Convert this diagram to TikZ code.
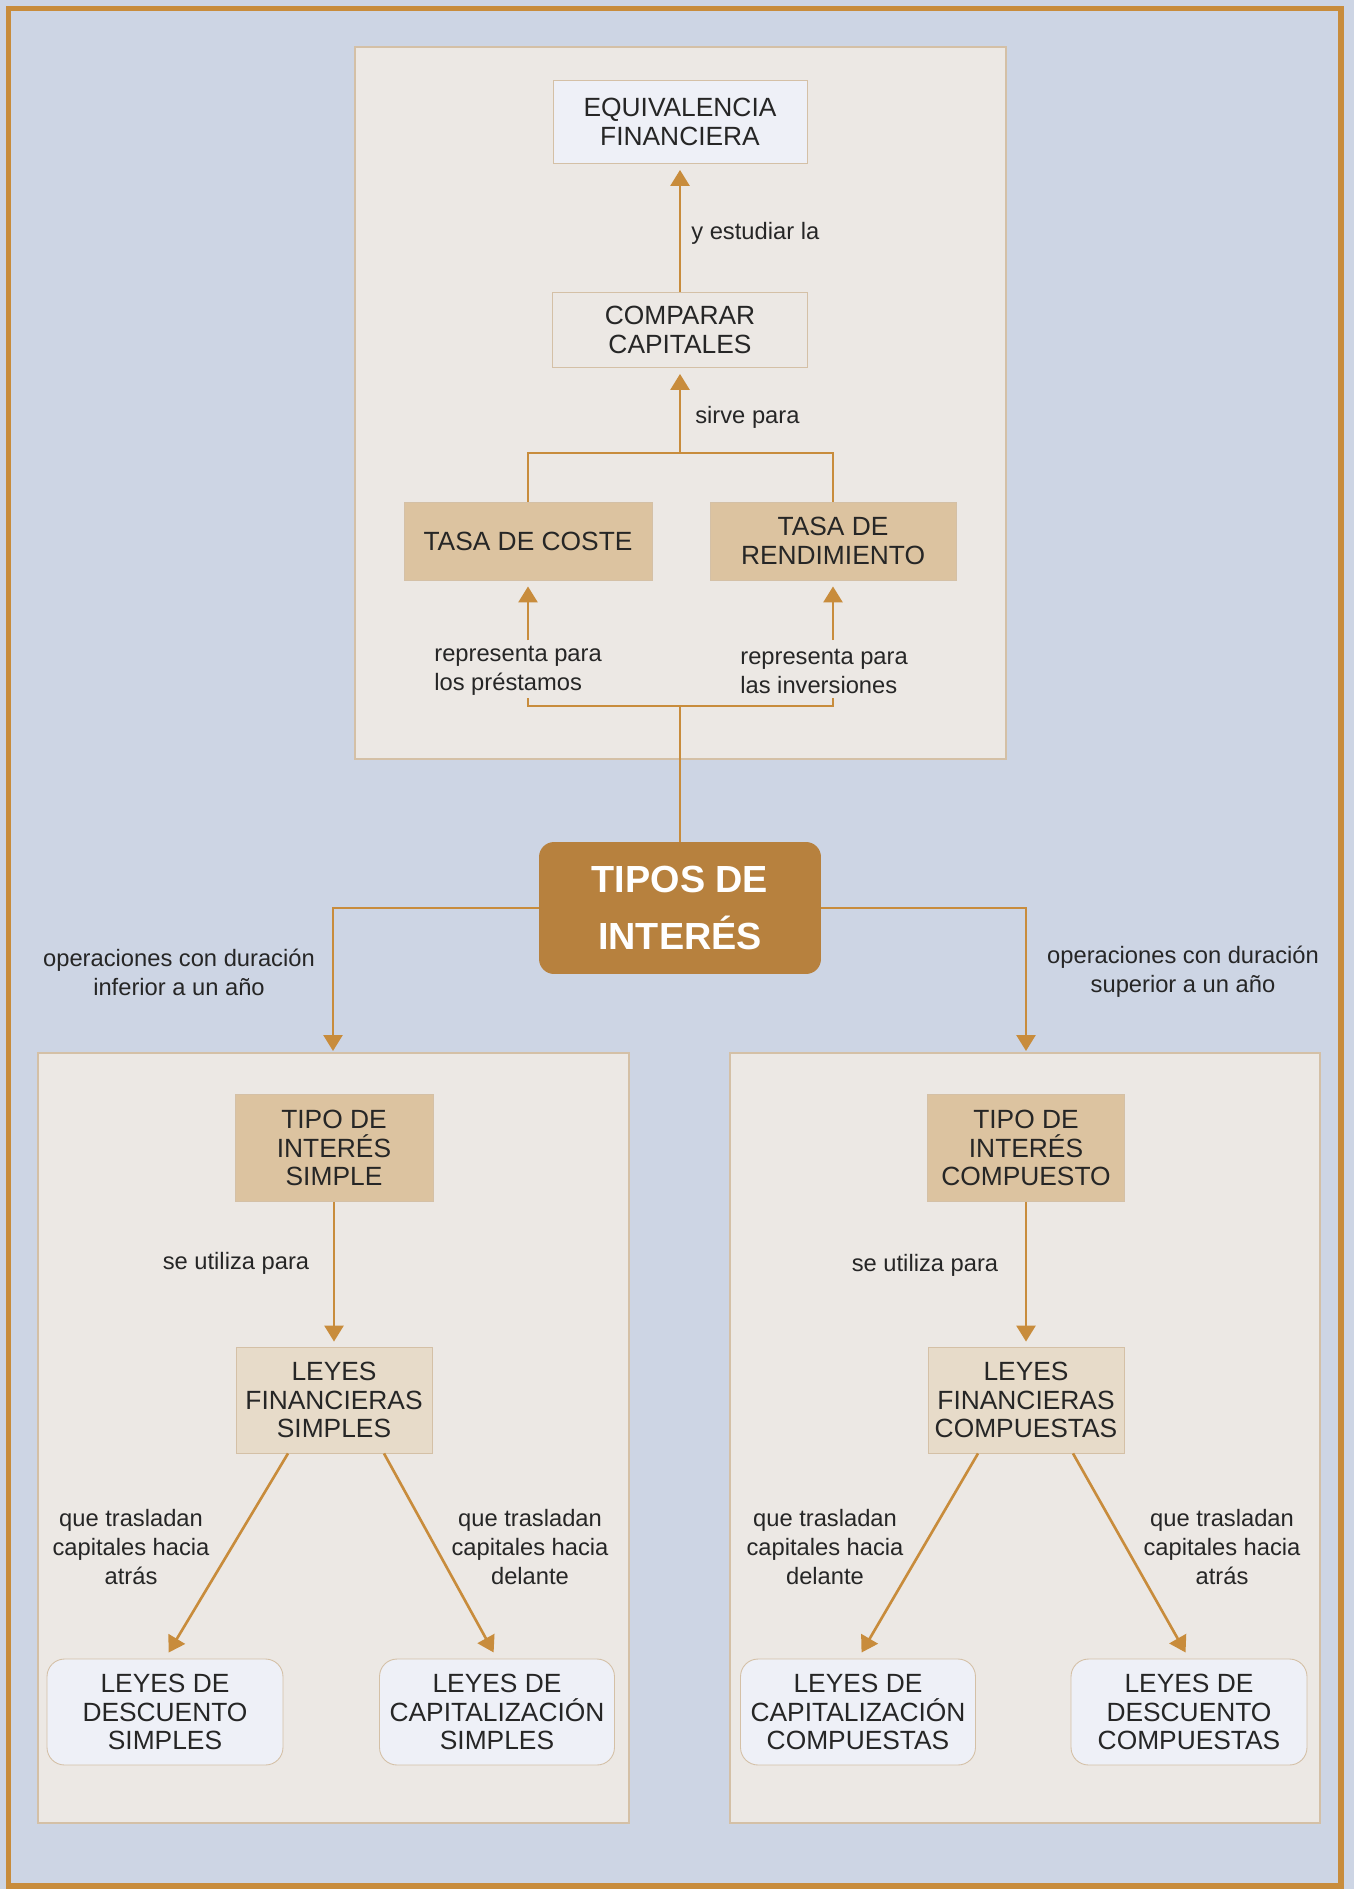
\documentclass[tikz,border=0pt]{standalone}
\usepackage{fontspec}
\setmainfont{Liberation Sans}
\usetikzlibrary{arrows.meta}
\definecolor{fondo}{HTML}{CDD5E4}
\definecolor{panel}{HTML}{ECE8E4}
\definecolor{ocre}{HTML}{C88C3C}
\definecolor{tostado}{HTML}{DCC3A0}
\definecolor{beige}{HTML}{E7DBC9}
\definecolor{clara}{HTML}{EEF0F7}
\definecolor{marron}{HTML}{B7813E}
\definecolor{borde}{HTML}{D4C0A6}
\definecolor{tinta}{HTML}{262626}

\begin{document}
\begin{tikzpicture}[x=0.02cm, y=-0.02cm, >={Triangle[length=0.32cm,width=0.38cm]},
  caja/.style={draw=borde, line width=0.5pt, inner sep=0pt, align=center, text=tinta, font=\fontsize{15}{16.2}\selectfont},
  etiqueta/.style={align=center, inner sep=0pt, text=tinta, font=\fontsize{13.5}{16.5}\selectfont},
  conector/.style={draw=ocre, line width=1.5pt},
  recuadro/.style={draw=borde, line width=0.6pt, fill=panel}]
\fill[fondo] (0,0) rectangle (1354,1889);
\useasboundingbox (0,0) rectangle (1354,1889);
\draw[ocre, line width=3pt] (8.5,8.5) rectangle (1341,1886);
\draw[recuadro] (355,47) rectangle (1006,759);
\draw[recuadro] (38,1053) rectangle (629,1823);
\draw[recuadro] (730,1053) rectangle (1320,1823);

\node[caja, fill=clara, minimum width=5.08cm, minimum height=1.66cm] (equiv) at (680,122) {EQUIVALENCIA\\FINANCIERA};
\node[caja, fill=panel, minimum width=5.1cm, minimum height=1.5cm] (comparar) at (680,330) {COMPARAR\\CAPITALES};
\node[caja, fill=tostado, minimum width=4.96cm, minimum height=1.56cm] (coste) at (528,541) {TASA DE COSTE};
\node[caja, fill=tostado, minimum width=4.92cm, minimum height=1.56cm] (rendim) at (833,541) {TASA DE\\RENDIMIENTO};
\node[caja, draw=none, fill=marron, rounded corners=0.3cm, text=white, minimum width=5.64cm, minimum height=2.64cm,
  font=\bfseries\fontsize{21.5}{32.4}\selectfont] (tipos) at (680,908) {TIPOS DE\\INTERÉS};
\node[caja, fill=tostado, minimum width=3.96cm, minimum height=2.14cm] (simple) at (334,1148) {TIPO DE\\INTERÉS\\SIMPLE};
\node[caja, fill=tostado, minimum width=3.94cm, minimum height=2.14cm] (compuesto) at (1026,1148) {TIPO DE\\INTERÉS\\COMPUESTO};
\node[caja, fill=beige, minimum width=3.92cm, minimum height=2.12cm] (leyesimp) at (334,1400) {LEYES\\FINANCIERAS\\SIMPLES};
\node[caja, fill=beige, minimum width=3.92cm, minimum height=2.12cm] (leyescomp) at (1026,1400) {LEYES\\FINANCIERAS\\COMPUESTAS};
\node[caja, fill=clara, rounded corners=0.35cm, minimum width=4.72cm, minimum height=2.12cm] (descsimp) at (165,1712) {LEYES DE\\DESCUENTO\\SIMPLES};
\node[caja, fill=clara, rounded corners=0.35cm, minimum width=4.7cm, minimum height=2.12cm] (capsimp) at (497,1712) {LEYES DE\\CAPITALIZACIÓN\\SIMPLES};
\node[caja, fill=clara, rounded corners=0.35cm, minimum width=4.7cm, minimum height=2.12cm] (capcomp) at (858,1712) {LEYES DE\\CAPITALIZACIÓN\\COMPUESTAS};
\node[caja, fill=clara, rounded corners=0.35cm, minimum width=4.72cm, minimum height=2.12cm] (desccomp) at (1189,1712) {LEYES DE\\DESCUENTO\\COMPUESTAS};

\node[etiqueta, anchor=west] (estudiar) at (691,233) {y estudiar la};
\node[etiqueta, anchor=west] (sirve) at (695,417) {sirve para};
\node[etiqueta, anchor=west, align=left] (prestamos) at (434,671) {representa para\\los préstamos};
\node[etiqueta, anchor=west, align=left] (inversiones) at (740,671) {representa para\\las inversiones};
\node[etiqueta] (inferior) at (179,972) {operaciones con duración\\inferior a un año};
\node[etiqueta] (superior) at (1183,972) {operaciones con duración\\superior a un año};
\node[etiqueta] (utilizasimp) at (236,1263) {se utiliza para};
\node[etiqueta] (utilizacomp) at (925,1265) {se utiliza para};
\node[etiqueta] (atrasimp) at (131,1547) {que trasladan\\capitales hacia\\atrás};
\node[etiqueta] (delsimp) at (530,1547) {que trasladan\\capitales hacia\\delante};
\node[etiqueta] (delcomp) at (825,1547) {que trasladan\\capitales hacia\\delante};
\node[etiqueta] (atrascomp) at (1222,1547) {que trasladan\\capitales hacia\\atrás};

\coordinate (cruce) at (680,453);
\coordinate (base) at (680,706);
\coordinate (brazoizq) at (528,698);
\coordinate (brazoder) at (833,698);
\coordinate (salidaizq) at (528,640);
\coordinate (salidader) at (833,640);
\coordinate (entradaizq) at (333,1051);
\coordinate (entradader) at (1026,1051);

\draw[conector, ->, shorten >=0.12cm] (comparar.north) -- (equiv.south);
\draw[conector] (coste.north) |- (cruce) -| (rendim.north);
\draw[conector, ->, shorten >=0.12cm] (cruce) -- (comparar.south);
\draw[conector, ->, shorten >=0.12cm] (salidaizq) -- (coste.south);
\draw[conector, ->, shorten >=0.12cm] (salidader) -- (rendim.south);
\draw[conector] (brazoizq) |- (base) -| (brazoder);
\draw[conector] (base) -- (tipos.north);
\draw[conector, ->] (tipos.west) -| (entradaizq);
\draw[conector, ->] (tipos.east) -| (entradader);
\draw[conector, ->, shorten >=0.1cm] (simple.south) -- (leyesimp.north);
\draw[conector, ->, shorten >=0.1cm] (compuesto.south) -- (leyescomp.north);
\draw[conector, ->, shorten >=0.14cm] ([xshift=-0.92cm]leyesimp.south) -- (descsimp.north);
\draw[conector, ->, shorten >=0.14cm] ([xshift=1cm]leyesimp.south) -- (capsimp.north);
\draw[conector, ->, shorten >=0.14cm] ([xshift=-0.96cm]leyescomp.south) -- (capcomp.north);
\draw[conector, ->, shorten >=0.14cm] ([xshift=0.94cm]leyescomp.south) -- (desccomp.north);
\end{tikzpicture}
\end{document}
